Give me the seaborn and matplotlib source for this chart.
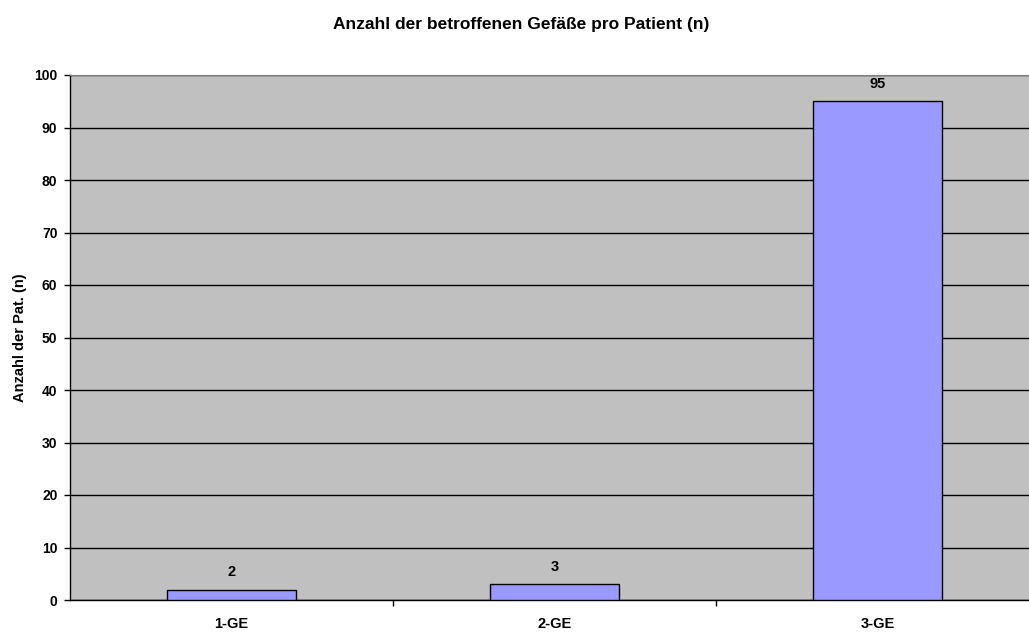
import matplotlib
matplotlib.use("Agg")
import matplotlib.pyplot as plt
import seaborn as sns
import pandas as pd
from matplotlib.ticker import FixedLocator

categories = ["1-GE", "2-GE", "3-GE"]
patients = [2, 3, 95]
y_ticks = [0, 10, 20, 30, 40, 50, 60, 70, 80, 90, 100]

sns.set_style("white")
plt.rcParams["font.family"] = ["Liberation Sans", "DejaVu Sans"]
plt.rcParams["font.weight"] = "bold"
plt.rcParams["text.color"] = "black"
plt.rcParams["axes.labelcolor"] = "black"
plt.rcParams["xtick.color"] = "black"
plt.rcParams["ytick.color"] = "black"

df = pd.DataFrame({"Gefäße": categories, "Patienten": patients})

W, H = 1029, 632
fig = plt.figure(figsize=(W / 100, H / 100), dpi=100)
ax = fig.add_axes([70 / W, 32 / H, 969 / W, 525 / H])
ax.set_facecolor("#C0C0C0")

sns.barplot(data=df, x="Gefäße", y="Patienten", color="#9999FF",
            edgecolor="black", linewidth=1.0, width=0.4, saturation=1, ax=ax, zorder=3)

ax.set_xlim(-0.5, 2.5)
ax.set_ylim(0, 100)
ax.set_yticks(y_ticks)
ax.yaxis.grid(True, color="black", linewidth=1.0, zorder=1)
ax.set_axisbelow(True)

for s in ["left", "bottom"]:
    ax.spines[s].set_color("black")
    ax.spines[s].set_linewidth(1.0)
ax.spines["top"].set_color("#808080")
ax.spines["right"].set_color("#808080")

ax.tick_params(axis="y", which="major", length=4, width=1, color="black",
               direction="out", labelsize=10, pad=5, left=True)
ax.tick_params(axis="x", which="major", length=0, labelsize=10.5, pad=12)
ax.xaxis.set_minor_locator(FixedLocator([0.5, 1.5]))
ax.tick_params(axis="x", which="minor", length=4, width=1, color="black",
               direction="out", bottom=True)
for lbl in ax.get_xticklabels() + ax.get_yticklabels():
    lbl.set_fontweight("bold")

ax.set_xlabel("")
ax.set_ylabel("Anzahl der Pat. (n)", fontsize=10.5, fontweight="bold", labelpad=5)

for i, v in enumerate(patients):
    ax.annotate(str(v), (i, v), xytext=(0, 12.5), textcoords="offset points",
                ha="center", va="center", fontsize=10.5, fontweight="bold")

fig.text(521 / W, 1 - 24 / H, "Anzahl der betroffenen Gefäße pro Patient (n)",
         ha="center", va="center", fontsize=12.5, fontweight="bold")

fig.savefig("out.png", dpi=100)
